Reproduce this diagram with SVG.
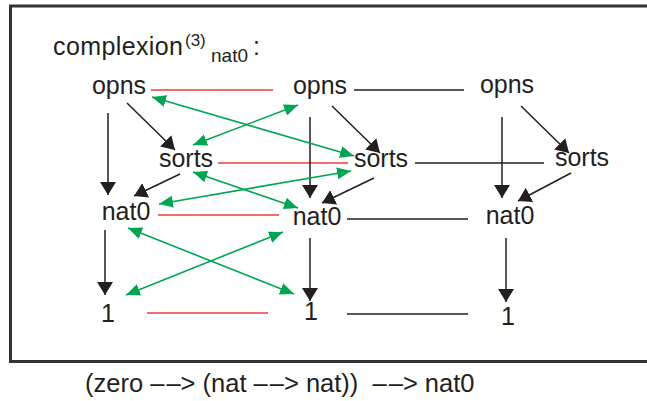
<svg xmlns="http://www.w3.org/2000/svg" width="647" height="401" viewBox="0 0 647 401">
<style>
.t{font-family:"Liberation Sans",Arial,sans-serif;font-size:25px;fill:#231F20;text-anchor:middle}
.blk{stroke:#231F20;stroke-width:1.5;fill:none}
.arr{stroke:#231F20;stroke-width:1.5;fill:none;marker-end:url(#ah)}
.grn{stroke:#00A651;stroke-width:1.6;fill:none;marker-start:url(#gh);marker-end:url(#gh)}
.red{stroke:#EE3B3B;stroke-width:1.5;fill:none}
</style>
<defs>
<marker id="ah" viewBox="0 0 13 16" markerWidth="13" markerHeight="16" refX="13" refY="8" orient="auto" markerUnits="userSpaceOnUse"><path d="M0,0 L13,8 L0,16 Z" fill="#231F20"/></marker>
<marker id="gh" viewBox="0 0 14 12" markerWidth="14" markerHeight="12" refX="14" refY="6" orient="auto-start-reverse" markerUnits="userSpaceOnUse"><path d="M0,0 L14,6 L0,12 Z" fill="#00A651"/></marker>
</defs>
<rect x="10.5" y="6" width="660" height="355.5" fill="none" stroke="#333" stroke-width="3"/>
<g id="title"><text x="53" y="55" style="font-family:'Liberation Sans',Arial,sans-serif;font-size:25px;fill:#231F20"><tspan textLength="130">complexion</tspan><tspan x="185" y="46" style="font-size:17px">(3)</tspan><tspan x="211" y="62" style="font-size:19px">nat0</tspan><tspan x="253" y="55">:</tspan></text></g>
<g id="connectors">
<line class="red" x1="151" y1="90" x2="273" y2="90"/>
<line class="red" x1="218" y1="163" x2="348" y2="163"/>
<line class="red" x1="158" y1="215" x2="279" y2="215"/>
<line class="red" x1="147" y1="313" x2="268" y2="313"/>
<line class="blk" x1="354" y1="90" x2="464" y2="90"/>
<line class="blk" x1="415" y1="163" x2="544" y2="163"/>
<line class="blk" x1="347" y1="219" x2="468" y2="219"/>
<line class="blk" x1="347" y1="314" x2="468" y2="314"/>
<line class="arr" x1="108" y1="113" x2="108" y2="195"/>
<line class="arr" x1="127" y1="103" x2="175" y2="150"/>
<line class="arr" x1="180" y1="174" x2="134" y2="196"/>
<line class="arr" x1="105" y1="230" x2="105" y2="295"/>
<line class="arr" x1="310" y1="117" x2="310" y2="198"/>
<line class="arr" x1="332" y1="106" x2="380" y2="153"/>
<line class="arr" x1="374" y1="178" x2="322" y2="203"/>
<line class="arr" x1="310" y1="238" x2="310" y2="301"/>
<line class="arr" x1="502" y1="117" x2="502" y2="198"/>
<line class="arr" x1="521" y1="106" x2="569" y2="153"/>
<line class="arr" x1="571" y1="173" x2="518" y2="201"/>
<line class="arr" x1="506" y1="238" x2="506" y2="302"/>
<line class="grn" x1="152" y1="97" x2="354" y2="156"/>
<line class="grn" x1="193" y1="145" x2="298" y2="105"/>
<line class="grn" x1="193" y1="172" x2="298" y2="208"/>
<line class="grn" x1="159" y1="204" x2="351" y2="171"/>
<line class="grn" x1="128" y1="228" x2="294" y2="294"/>
<line class="grn" x1="126" y1="295" x2="283" y2="232"/>
</g>
<g id="opns1"><text class="t" x="119" y="94">opns</text></g>
<g id="sorts1"><text class="t" x="186" y="167">sorts</text></g>
<g id="nat0_1"><text class="t" x="126" y="220">nat0</text></g>
<g id="one1"><text class="t" x="108" y="322">1</text></g>
<g id="opns2"><text class="t" x="320" y="94">opns</text></g>
<g id="sorts2"><text class="t" x="381" y="167">sorts</text></g>
<g id="nat0_2"><text class="t" x="317" y="225">nat0</text></g>
<g id="one2"><text class="t" x="311" y="320">1</text></g>
<g id="opns3"><text class="t" x="507" y="93">opns</text></g>
<g id="sorts3"><text class="t" x="582" y="166">sorts</text></g>
<g id="nat0_3"><text class="t" x="510" y="224">nat0</text></g>
<g id="one3"><text class="t" x="508" y="325">1</text></g>
<g id="caption"><text x="85" y="392" style="font-family:'Liberation Sans',Arial,sans-serif;font-size:25.5px;fill:#231F20;white-space:pre">(zero –<tspan dx="2">–&gt;</tspan> (nat –<tspan dx="2">–&gt;</tspan> nat))  –<tspan dx="2">–&gt;</tspan> nat0</text></g>
</svg>
